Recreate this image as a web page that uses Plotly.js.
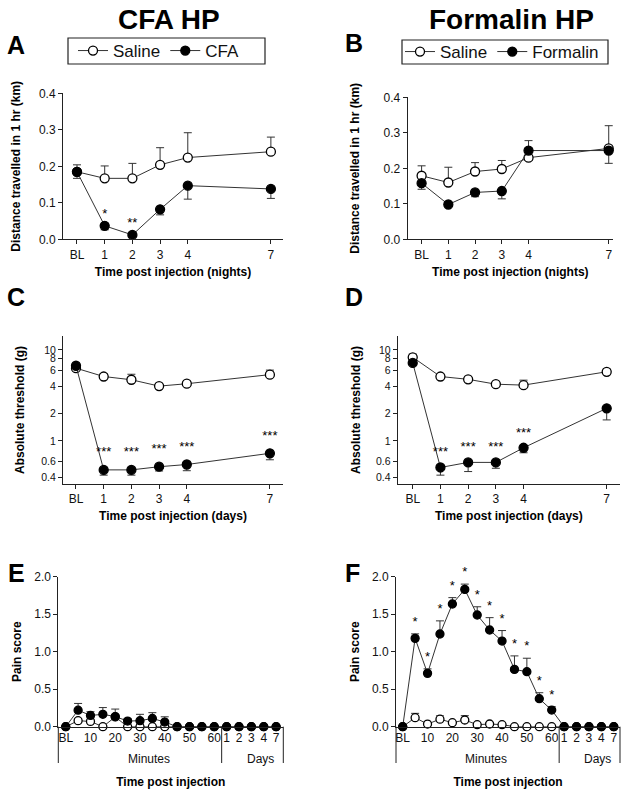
<!DOCTYPE html>
<html><head><meta charset="utf-8">
<script src="https://cdn.plot.ly/plotly-3.0.1.min.js"></script>
<style>html,body{margin:0;padding:0;background:#fff}#chart{width:629px;height:797px}</style>
</head><body><div id="chart"></div>
<script>
// ---------------- DATA ----------------
const nightLabels = ['BL','1','2','3','4','7'];
const nightX = [0,1,2,3,4,7];
const dayX = [0,1,2,3,4,7];
const dayLabels7 = ['BL','1','2','3','4','7'];

// A: CFA HP, distance travelled (km)
const aSaline = [0.185,0.167,0.167,0.204,0.224,0.240];
const aSalineUp = [0.019,0.034,0.041,0.047,0.068,0.040];
const aCFA = [0.185,0.037,0.012,0.082,0.147,0.138];
const aCFADown = [0.018,0.011,0.005,0.015,0.037,0.026];
const aStars = ['','*','**','','',''];

// B: Formalin HP, distance travelled (km)
const bSaline = [0.179,0.160,0.191,0.198,0.230,0.256];
const bSalineUp = [0.028,0.043,0.025,0.024,0.000,0.064];
const bSalineDown = [0,0,0,0,0.008,0];
const bFormalin = [0.158,0.098,0.132,0.136,0.250,0.250];
const bFormalinUp = [0,0,0,0,0.028,0];
const bFormalinDown = [0.017,0.006,0.012,0.022,0,0.036];

// C: CFA HP, absolute threshold (g)
const cSaline = [6.3,5.1,4.7,4.0,4.25,5.35];
const cSalineUp = [0.3,0.4,0.7,0.2,0.25,0.65];
const cCFA = [6.7,0.48,0.48,0.52,0.55,0.73];
const cCFADown = [0.3,0.06,0.06,0.053,0.08,0.11];
const cStars = ['','***','***','***','***','***'];

// D: Formalin HP, absolute threshold (g)
const dSaline = [8.3,5.1,4.75,4.2,4.1,5.75];
const dSalineUp = [0.7,0.3,0.2,0.2,0.55,0.4];
const dFormalin = [7.2,0.51,0.58,0.58,0.84,2.28];
const dFormalinDown = [0.3,0.09,0.12,0.08,0.1,0.58];
const dStars = ['','***','***','***','***',''];

// E / F: pain score over time
const minuteLabels = ['BL','5','10','15','20','25','30','35','40','45','50','55','60'];
const dayLabels = ['1','2','3','4','7'];
const eSaline = [0,0.08,0.07,0,0.13,0,0,0,0,0,0,0,0, 0,0,0,0,0];
const eSalineUp = [0,0.03,0.03,0,0.03,0,0,0,0,0,0,0,0, 0,0,0,0,0];
const eCFA = [0,0.22,0.15,0.165,0.135,0.075,0.08,0.11,0.062,0,0,0,0, 0,0,0,0,0];
const eCFAUp = [0,0.09,0.05,0.09,0.10,0.035,0.085,0.077,0.07,0,0,0,0, 0,0,0,0,0];
const fSaline = [0,0.12,0.035,0.10,0.053,0.089,0.027,0.036,0.027,0,0,0,0, 0,0,0,0,0];
const fSalineUp = [0,0.058,0,0.045,0,0.058,0,0.02,0,0,0,0,0, 0,0,0,0,0];
const fFormalin = [0,1.178,0.711,1.236,1.636,1.831,1.489,1.289,1.142,0.764,0.733,0.373,0.222, 0,0,0,0,0];
const fFormalinUp = [0,0.06,0.06,0.175,0.085,0.07,0.11,0.165,0.14,0.18,0.18,0.08,0.045, 0,0,0,0,0];
const fStars = ['','*','*','*','*','*','*','*','*','*','*','*','*', '','','','',''];

// ---------------- BUILD ----------------
const W = 629, H = 797;
const FONT = 'Liberation Sans, Arial, Helvetica, sans-serif';
const xd = (a,b) => [a/W, b/W];
const yd = (top,bottom) => [1-bottom/H, 1-top/H];
const zeros = n => new Array(n).fill(0);

const timeLabels = minuteLabels.concat(dayLabels);
const timeIdx = timeLabels.map((_,i) => i);
const shownTicks = timeIdx.filter(i => i >= minuteLabels.length || minuteLabels[i] === 'BL' || (+minuteLabels[i]) % 10 === 0);
const SEP = minuteLabels.length - 1 + 0.6;

function series(x, y, up, down, filled, xa, ya, name, legend, showlegend, msize) {
  return {
    type:'scatter', mode:'lines+markers', x:x, y:y, name:name,
    xaxis:xa, yaxis:ya, legend:legend, showlegend:showlegend, cliponaxis:false,
    line:{color:'#333', width:1},
    marker:{size:msize||9, color: filled ? '#000' : '#fff', line:{color:'#000', width:1.3}},
    error_y:{type:'data', symmetric:false, array:up, arrayminus:down, color:'#333', thickness:1, width:4},
    hoverinfo:'x+y'
  };
}
// significance stars; the transparent marker size only sets the gap above the point
function stars(x, y, text, xa, ya, gap) {
  return {type:'scatter', mode:'markers+text', x:x, y:y, text:text, textposition:'top center',
    marker:{size:gap, color:'rgba(0,0,0,0)'},
    textfont:{size:13, color:'#000', family:FONT}, xaxis:xa, yaxis:ya, showlegend:false,
    hoverinfo:'skip', cliponaxis:false};
}
const fPlus = fFormalin.map((v,i) => v + fFormalinUp[i]);

const traces = [
  series(nightX, aSaline, aSalineUp, zeros(6), false, 'x', 'y', 'Saline', 'legend', true),
  series(nightX, aCFA, zeros(6), aCFADown, true, 'x', 'y', 'CFA', 'legend', true),
  stars(nightX, aCFA, aStars, 'x', 'y', 6),
  series(nightX, bSaline, bSalineUp, bSalineDown, false, 'x2', 'y2', 'Saline', 'legend2', true),
  series(nightX, bFormalin, bFormalinUp, bFormalinDown, true, 'x2', 'y2', 'Formalin', 'legend2', true),
  series(dayX, cSaline, cSalineUp, zeros(6), false, 'x3', 'y3', 'Saline', 'legend', false),
  series(dayX, cCFA, zeros(6), cCFADown, true, 'x3', 'y3', 'CFA', 'legend', false),
  stars(dayX, cCFA, cStars, 'x3', 'y3', 15),
  series(dayX, dSaline, dSalineUp, zeros(6), false, 'x4', 'y4', 'Saline', 'legend2', false),
  series(dayX, dFormalin, zeros(6), dFormalinDown, true, 'x4', 'y4', 'Formalin', 'legend2', false),
  stars(dayX, dFormalin, dStars, 'x4', 'y4', 11),
  series(timeIdx, eSaline, eSalineUp, zeros(18), false, 'x5', 'y5', 'Saline', 'legend', false, 8),
  series(timeIdx, eCFA, eCFAUp, zeros(18), true, 'x5', 'y5', 'CFA', 'legend', false, 8),
  series(timeIdx, fSaline, fSalineUp, zeros(18), false, 'x6', 'y6', 'Saline', 'legend2', false, 8),
  series(timeIdx, fFormalin, fFormalinUp, zeros(18), true, 'x6', 'y6', 'Formalin', 'legend2', false, 8),
  stars(timeIdx, fPlus, fStars, 'x6', 'y6', 6)
];

const axBase = {showline:true, linecolor:'#222', linewidth:1, ticks:'outside', ticklen:4,
  tickcolor:'#222', tickwidth:1, showgrid:false, zeroline:false, fixedrange:true,
  tickfont:{size:12, color:'#111', family:FONT}};
const tfont = {size:12, color:'#000', family:FONT};
function xAx(dom, range, vals, text, anchor, title, standoff, extra) {
  return Object.assign({}, axBase, {domain:dom, range:range, tickvals:vals, ticktext:text, anchor:anchor,
    title:{text:'<b>'+title+'</b>', font:tfont, standoff:standoff}}, extra||{});
}
function yAx(dom, range, anchor, title, standoff, extra) {
  return Object.assign({}, axBase, {domain:dom, range:range, anchor:anchor,
    title:{text:'<b>'+title+'</b>', font:tfont, standoff:standoff}}, extra||{});
}
const linTicks = {tickvals:[0,0.1,0.2,0.3,0.4], tickformat:'.1f'};
const logTicks = {type:'log', tickvals:[0.4,0.6,1,2,4,6,8,10], ticktext:['0.4','0.6','1','2','4','6','8','10'],
  tickfont:{size:10.5, color:'#111', family:FONT}};
const painTicks = {tickvals:[0,0.5,1,1.5,2], tickformat:'.1f'};
const timeTickText = shownTicks.map(i => timeLabels[i]);

const legFont = {size:17, color:'#111', family:FONT};
const layout = {
  width:W, height:H, margin:{l:0,r:0,t:0,b:0}, paper_bgcolor:'#fff', plot_bgcolor:'#fff',
  font:{family:FONT, color:'#111'},
  xaxis: xAx(xd(63,283), [-0.505,7.437], nightX, nightLabels, 'y', 'Time post injection (nights)', 6),
  yaxis: yAx(yd(93.3,239.3), [0,0.4], 'x', 'Distance travelled in 1 hr (km)', 15, linTicks),
  xaxis2: xAx(xd(407.7,613), [-0.52,7.16], nightX, nightLabels, 'y2', 'Time post injection (nights)', 6),
  yaxis2: yAx(yd(97.3,239.3), [0,0.4], 'x2', 'Distance travelled in 1 hr (km)', 21, linTicks),
  xaxis3: xAx(xd(63,283), [-0.469,7.473], dayX, dayLabels7, 'y3', 'Time post injection (days)', 6),
  yaxis3: yAx(yd(336,484), [-0.474,1.153], 'x3', 'Absolute threshold (g)', 14, logTicks),
  xaxis4: xAx(xd(397.7,620), [-0.542,7.48], dayX, dayLabels7, 'y4', 'Time post injection (days)', 6),
  yaxis4: yAx(yd(336,484), [-0.474,1.153], 'x4', 'Absolute threshold (g)', 12, logTicks),
  xaxis5: xAx(xd(58.3,283.3), [-0.6,17.58], shownTicks, timeTickText, 'y5', 'Time post injection', 33, {ticks:''}),
  yaxis5: yAx(yd(576.7,726.7), [0,2], 'x5', 'Pain score', 10, painTicks),
  xaxis6: xAx(xd(396,620), [-0.54,17.5], shownTicks, timeTickText, 'y6', 'Time post injection', 33, {ticks:''}),
  yaxis6: yAx(yd(576.7,726.7), [0,2], 'x6', 'Pain score', 9, painTicks),
  legend: {x:73/W, y:1-51/H, xanchor:'left', yanchor:'middle', orientation:'h', borderwidth:0,
    bgcolor:'rgba(0,0,0,0)', font:legFont},
  legend2: {x:400/W, y:1-52/H, xanchor:'left', yanchor:'middle', orientation:'h', borderwidth:0,
    bgcolor:'rgba(0,0,0,0)', font:legFont},
  shapes: [
    {type:'rect', xref:'paper', yref:'paper', x0:68/W, x1:265/W, y0:1-38/H, y1:1-64/H, line:{color:'#222', width:1.2}},
    {type:'rect', xref:'paper', yref:'paper', x0:402/W, x1:608/W, y0:1-40/H, y1:1-64/H, line:{color:'#222', width:1.2}}
  ],
  annotations: []
};

// axis extension lines under E and F (Minutes / Days brackets)
['x5','x6'].forEach(xa => {
  const ln = {color:'#222', width:1};
  layout.shapes.push({type:'line', xref:xa+' domain', yref:'paper', x0:0, x1:0, y0:1-726.7/H, y1:1-763/H, line:ln});
  layout.shapes.push({type:'line', xref:xa+' domain', yref:'paper', x0:1, x1:1, y0:1-726.7/H, y1:1-763/H, line:ln});
  layout.shapes.push({type:'line', xref:xa, yref:'paper', x0:SEP, x1:SEP, y0:1-726.7/H, y1:1-763/H, line:ln});
  layout.annotations.push({xref:xa, yref:'paper', x:6.7, y:1-759/H, text:'Minutes', showarrow:false, font:{size:12, color:'#111', family:FONT}, xanchor:'center', yanchor:'middle'});
  layout.annotations.push({xref:xa, yref:'paper', x:15.7, y:1-759/H, text:'Days', showarrow:false, font:{size:12, color:'#111', family:FONT}, xanchor:'center', yanchor:'middle'});
});

// column titles and panel letters
const big = {size:28, color:'#000', family:FONT};
layout.annotations.push({xref:'paper', yref:'paper', x:169/W, y:1-19/H, text:'<b>CFA HP</b>', showarrow:false, font:big, xanchor:'center', yanchor:'middle'});
layout.annotations.push({xref:'paper', yref:'paper', x:511/W, y:1-19/H, text:'<b>Formalin HP</b>', showarrow:false, font:big, xanchor:'center', yanchor:'middle'});
const letters = [['A',16,45],['B',354,43],['C',16,297.5],['D',354,297],['E',16,572.5],['F',352,572.5]];
letters.forEach(l => layout.annotations.push({xref:'paper', yref:'paper', x:l[1]/W, y:1-l[2]/H, text:'<b>'+l[0]+'</b>',
  showarrow:false, font:{size:25, color:'#000', family:FONT}, xanchor:'center', yanchor:'middle'}));

Plotly.newPlot('chart', traces, layout, {staticPlot:true, displayModeBar:false});
</script></body></html>
